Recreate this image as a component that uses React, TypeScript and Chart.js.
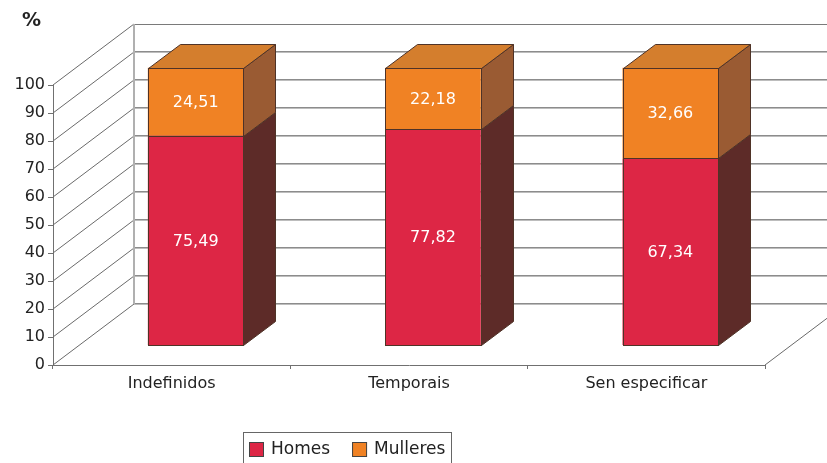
import React, { useEffect, useRef } from 'react';
import { Chart, registerables } from 'chart.js';

Chart.register(...registerables);

// ---- data ----
const categories = ['Indefinidos', 'Temporais', 'Sen especificar'];
const seriesNames = ['Homes', 'Mulleres'];
const homesValues = [75.49, 77.82, 67.34];
const mulleresValues = [24.51, 22.18, 32.66];
const yMin = 0;
const yMax = 100;
const yStep = 10;
const yUnitLabel = '%';

// ---- style ----
const FONT = '"DejaVu Sans", "Liberation Sans", Arial, sans-serif';
const TEXT = '#222222';
const AXIS = '#707070';
const WALL_DX = 81;
const WALL_DY = -61;
const BAR_DX = 24;
const BAR_DY = -19.4;
const BAR_K = 0.9925;
const DEPTH_DX = 32;
const DEPTH_DY = -24.5;
const EDGE = '#4f3327';

const faceColors = [
  { front: '#DD2645', side: '#5D2B28', top: '#B3243A' },
  { front: '#F08224', side: '#9A5B33', top: '#D47E2D' },
];

const fmt = (v: number) => v.toFixed(2).replace('.', ',');
const snap = (v: number) => Math.round(v) + 0.5;

const threeD = {
  id: 'threeD',
  beforeDatasetsDraw(chart: any) {
    const { ctx, chartArea: ca } = chart;
    const y = chart.scales.y;
    ctx.save();
    const xl = ca.left + WALL_DX;
    const xr = ca.right + WALL_DX;
    // left wall diagonals
    ctx.strokeStyle = '#6a6a6a';
    ctx.lineWidth = 1;
    for (let v = yMin; v <= yMax; v += yStep) {
      const yf = y.getPixelForValue(v);
      ctx.beginPath();
      ctx.moveTo(ca.left, yf);
      ctx.lineTo(xl, yf + WALL_DY);
      ctx.stroke();
    }
    // back wall grid lines
    for (let v = yMin; v <= yMax; v += yStep) {
      const yb = Math.round(y.getPixelForValue(v) + WALL_DY);
      if (v === yMax) {
        ctx.strokeStyle = '#7a7a7a';
        ctx.beginPath();
        ctx.moveTo(xl, yb + 0.5);
        ctx.lineTo(xr, yb + 0.5);
        ctx.stroke();
      } else {
        ctx.strokeStyle = '#8c8c8c';
        ctx.beginPath();
        ctx.moveTo(xl, yb - 0.5);
        ctx.lineTo(xr, yb - 0.5);
        ctx.stroke();
        ctx.strokeStyle = '#bdbdbd';
        ctx.beginPath();
        ctx.moveTo(xl, yb + 0.5);
        ctx.lineTo(xr, yb + 0.5);
        ctx.stroke();
      }
    }
    // left wall back vertical edge
    ctx.strokeStyle = '#b0b0b0';
    ctx.lineWidth = 2;
    ctx.beginPath();
    ctx.moveTo(xl, y.getPixelForValue(yMax) + WALL_DY);
    ctx.lineTo(xl, y.getPixelForValue(yMin) + WALL_DY);
    ctx.stroke();
    // floor right diagonal
    ctx.strokeStyle = '#6a6a6a';
    ctx.lineWidth = 1;
    const y0 = y.getPixelForValue(yMin);
    ctx.beginPath();
    ctx.moveTo(ca.right, y0);
    ctx.lineTo(xr, y0 + WALL_DY);
    ctx.stroke();
    ctx.restore();

    // bar plane transform (front faces drawn by Chart.js)
    ctx.save();
    ctx.translate(BAR_DX, y0 + BAR_DY);
    ctx.scale(1, BAR_K);
    ctx.translate(0, -y0);
  },
  afterDatasetsDraw(chart: any) {
    const { ctx } = chart;
    ctx.restore();
    const y0 = chart.scales.y.getPixelForValue(yMin);
    const PX = (x: number) => x + BAR_DX;
    const PY = (y: number) => y0 + BAR_DY + (y - y0) * BAR_K;
    const metas = chart.getSortedVisibleDatasetMetas();
    ctx.save();
    ctx.lineWidth = 1;
    ctx.strokeStyle = EDGE;
    ctx.lineJoin = 'miter';
    metas.forEach((meta: any, di: number) => {
      const fc = faceColors[meta.index];
      const isTop = di === metas.length - 1;
      meta.data.forEach((el: any) => {
        const p = el.getProps(['x', 'y', 'base', 'width'], true);
        const L = snap(PX(p.x - p.width / 2));
        const R = snap(PX(p.x + p.width / 2));
        const T = snap(PY(p.y));
        const B = snap(PY(p.base));
        const dx = DEPTH_DX;
        const dy = Math.round(DEPTH_DY);
        // side face
        ctx.fillStyle = fc.side;
        ctx.beginPath();
        ctx.moveTo(R, T);
        ctx.lineTo(R + dx, T + dy);
        ctx.lineTo(R + dx, B + dy);
        ctx.lineTo(R, B);
        ctx.closePath();
        ctx.fill();
        ctx.stroke();
        if (isTop) {
          ctx.fillStyle = fc.top;
          ctx.beginPath();
          ctx.moveTo(L, T);
          ctx.lineTo(L + dx, T + dy);
          ctx.lineTo(R + dx, T + dy);
          ctx.lineTo(R, T);
          ctx.closePath();
          ctx.fill();
          ctx.stroke();
        }
        // front outline
        ctx.strokeRect(L, T, R - L, B - T);
      });
    });
    // value labels
    ctx.fillStyle = '#ffffff';
    ctx.font = `16px ${FONT}`;
    ctx.textAlign = 'center';
    ctx.textBaseline = 'middle';
    metas.forEach((meta: any) => {
      const values = chart.data.datasets[meta.index].data;
      meta.data.forEach((el: any, i: number) => {
        const p = el.getProps(['x', 'y', 'base'], true);
        ctx.fillText(fmt(values[i]), PX(p.x), (PY(p.y) + PY(p.base)) / 2 + 1);
      });
    });
    ctx.restore();
  },
  afterDraw(chart: any) {
    const { ctx } = chart;
    ctx.save();
    // unit label
    ctx.fillStyle = TEXT;
    ctx.font = `bold 19px ${FONT}`;
    ctx.textAlign = 'left';
    ctx.textBaseline = 'alphabetic';
    ctx.fillText(yUnitLabel, 22, 26);
    // legend
    ctx.font = `17px ${FONT}`;
    ctx.textBaseline = 'middle';
    const sw = 15;
    const gap = 7;
    const itemGap = 22;
    const cy = 449.5;
    let x = 249;
    chart.data.datasets.forEach((ds: any, i: number) => {
      ctx.fillStyle = ds.backgroundColor;
      ctx.fillRect(x, cy - sw / 2, sw, sw);
      ctx.strokeStyle = '#444';
      ctx.lineWidth = 1;
      ctx.strokeRect(x + 0.5, cy - sw / 2 + 0.5, sw - 1, sw - 1);
      x += sw + gap;
      ctx.fillStyle = TEXT;
      ctx.fillText(ds.label, x, cy);
      x += ctx.measureText(ds.label).width + (i < chart.data.datasets.length - 1 ? itemGap : 0);
    });
    ctx.strokeStyle = '#666';
    ctx.lineWidth = 1;
    ctx.strokeRect(243.5, 432.5, Math.round(x + 6 - 243), 40);
    ctx.restore();
  },
};

export default function App() {
  const ref = useRef<HTMLCanvasElement | null>(null);
  useEffect(() => {
    const canvas = ref.current;
    if (!canvas) return;
    const chart = new Chart(canvas, {
      type: 'bar',
      data: {
        labels: categories,
        datasets: [
          {
            label: seriesNames[0],
            data: homesValues,
            backgroundColor: faceColors[0].front,
            borderWidth: 0,
            inflateAmount: 0,
            clip: false as any,
          },
          {
            label: seriesNames[1],
            data: mulleresValues,
            backgroundColor: faceColors[1].front,
            borderWidth: 0,
            inflateAmount: 0,
            clip: false as any,
          },
        ],
      },
      options: {
        responsive: false,
        animation: false,
        events: [],
        categoryPercentage: 1,
        barPercentage: 0.403,
        layout: { padding: { top: 85, right: 62, left: 0, bottom: 0 } },
        plugins: {
          legend: { display: false },
          tooltip: { enabled: false },
          title: { display: false },
        },
        scales: {
          x: {
            stacked: true,
            offset: true,
            grid: {
              offset: true,
              drawOnChartArea: false,
              drawTicks: true,
              tickLength: 4,
              color: AXIS,
            },
            border: { display: true, color: AXIS },
            ticks: {
              color: TEXT,
              font: { family: FONT, size: 16 },
              padding: 5,
              maxRotation: 0,
            },
            afterFit: (s: any) => {
              s.height = 98;
            },
          },
          y: {
            stacked: true,
            min: yMin,
            max: yMax,
            grid: {
              drawOnChartArea: false,
              drawTicks: true,
              tickLength: 5,
              color: AXIS,
            },
            border: { display: true, color: AXIS },
            ticks: {
              stepSize: yStep,
              color: TEXT,
              font: { family: FONT, size: 16 },
              padding: 3,
            },
            afterFit: (s: any) => {
              s.width = 53;
            },
          },
        },
      } as any,
      plugins: [threeD],
    });
    return () => chart.destroy();
  }, []);
  return (
    <div style={{ position: 'absolute', left: 0, top: 0, width: 827, height: 463, background: '#fff' }}>
      <canvas ref={ref} width={827} height={463} style={{ display: 'block' }} />
    </div>
  );
}
